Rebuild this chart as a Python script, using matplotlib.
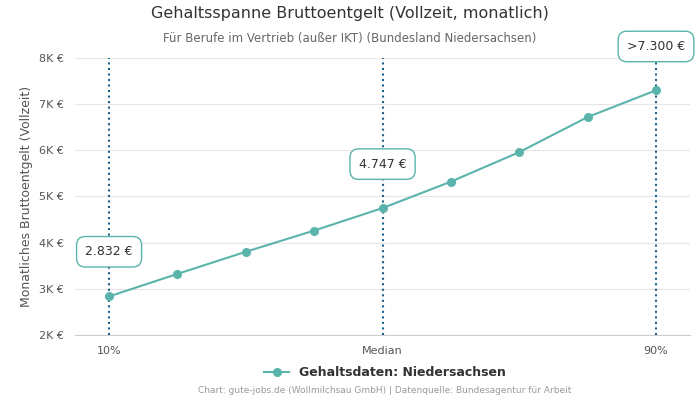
import matplotlib.pyplot as plt

# Gehaltsdaten Niedersachsen (Vertrieb ohne IKT)
positions = [0, 1, 2, 3, 4, 5, 6, 7, 8]
salaries = [2832, 3320, 3800, 4260, 4747, 5320, 5960, 6720, 7300]
tick_pos = [0, 4, 8]
tick_labels = ['10%', 'Median', '90%']
box_labels = ['2.832 €', '4.747 €', '>7.300 €']
box_y = [3800, 5700, 8250]

teal = '#5ab4ac'
fig = plt.figure(figsize=(7, 4), dpi=100)
ax = fig.add_axes([0.107, 0.163, 0.879, 0.692])

for p in tick_pos:
    ax.axvline(p, color='#1f5f8b', linestyle=':', linewidth=1.5, zorder=1)

ax.plot(positions, salaries, color=teal, marker='o', markersize=5.5, linewidth=1.5,
        label='Gehaltsdaten: Niedersachsen', zorder=3)

for p, lab, y in zip(tick_pos, box_labels, box_y):
    ax.text(p, y, lab, ha='center', va='center', fontsize=9, color='#333333', zorder=5,
            bbox=dict(boxstyle='round,pad=0.7', facecolor='white', edgecolor=teal, linewidth=1))

ax.set_xlim(-0.5, 8.5)
ax.set_ylim(2000, 8000)
ax.set_yticks(range(2000, 8001, 1000))
ax.set_yticklabels([f'{v // 1000}K €' for v in range(2000, 8001, 1000)])
ax.set_xticks(tick_pos)
ax.set_xticklabels(tick_labels)
ax.tick_params(labelsize=8, colors='#555555', length=0, pad=8)
ax.grid(axis='y', color='#e6e6e6', linewidth=0.8)
ax.set_axisbelow(True)
for s in ['top', 'right', 'left']:
    ax.spines[s].set_visible(False)
ax.spines['bottom'].set_color('#cccccc')
ax.set_ylabel('Monatliches Bruttoentgelt (Vollzeit)', fontsize=9, color='#555555')

fig.text(0.5, 0.955, 'Gehaltsspanne Bruttoentgelt (Vollzeit, monatlich)', ha='center',
         fontsize=11.5, color='#333333')
fig.text(0.5, 0.895, 'Für Berufe im Vertrieb (außer IKT) (Bundesland Niedersachsen)', ha='center',
         fontsize=8.5, color='#666666')
leg = fig.legend(loc='center', bbox_to_anchor=(0.55, 0.068), frameon=False, fontsize=9)
for t in leg.get_texts():
    t.set_fontweight('bold')
    t.set_color('#333333')
fig.text(0.55, 0.018, 'Chart: gute-jobs.de (Wollmilchsau GmbH) | Datenquelle: Bundesagentur für Arbeit',
         ha='center', fontsize=6.5, color='#999999')

fig.savefig('out.png')
